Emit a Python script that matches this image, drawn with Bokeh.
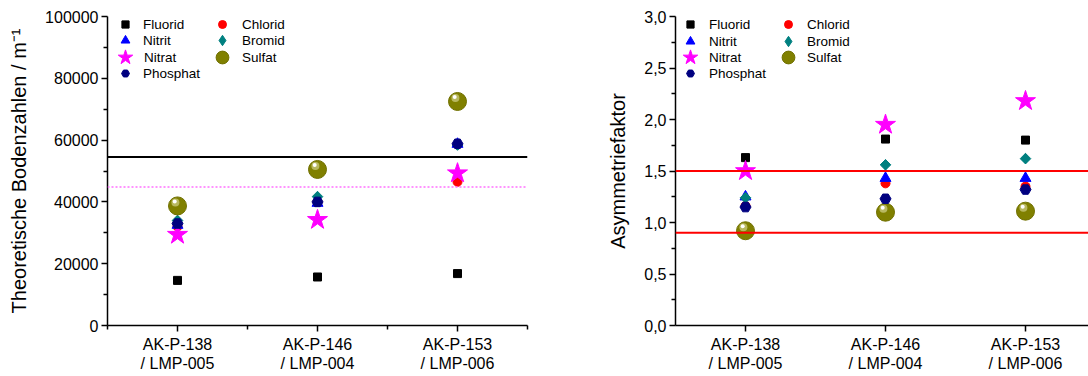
import math
from bokeh.plotting import figure
from bokeh.layouts import row
from bokeh.models import (Range1d, FixedTicker, Legend, LegendItem, Span, ColumnDataSource,
                          NumeralTickFormatter)
from bokeh.transform import dodge
from bokeh.embed import file_html
from bokeh.resources import INLINE

# ---------------- data ----------------
samples = ["AK-P-138\n/ LMP-005", "AK-P-146\n/ LMP-004", "AK-P-153\n/ LMP-006"]
xpos = [1, 2, 3]

# Theoretische Bodenzahlen / m^-1
plates_fluorid = [14600, 15700, 16800]
plates_chlorid = [32000, 40000, 46500]
plates_nitrit = [32500, 39600, 58700]
plates_bromid = [34000, 41700, 58400]
plates_nitrat = [29400, 34200, 49300]
plates_sulfat = [38700, 50500, 72500]
plates_phosphat = [33000, 40000, 58800]
plates_limit_solid = 54500
plates_limit_dotted = 44800

# Asymmetriefaktor
asym_fluorid = [1.63, 1.81, 1.80]
asym_chlorid = [1.16, 1.38, 1.35]
asym_nitrit = [1.25, 1.43, 1.43]
asym_bromid = [1.24, 1.56, 1.62]
asym_nitrat = [1.50, 1.95, 2.18]
asym_sulfat = [0.92, 1.10, 1.11]
asym_phosphat = [1.15, 1.23, 1.32]
asym_limits = [1.5, 0.9]

left_yticks = [0, 20000, 40000, 60000, 80000, 100000]
left_yminor = [10000, 30000, 50000, 70000, 90000]
right_yticks = [0, 0.5, 1.0, 1.5, 2.0, 2.5, 3.0]
right_yminor = [0.25, 0.75, 1.25, 1.75, 2.25, 2.75]
right_ylabels = ["0,0", "0,5", "1,0", "1,5", "2,0", "2,5", "3,0"]

legend_col1 = ["Fluorid", "Nitrit", "Nitrat", "Phosphat"]
legend_col2 = ["Chlorid", "Bromid", "Sulfat"]

FONT = "Liberation Sans"
H = 376
TOP = 16
FRAME_H = 309
LEFT = 107


def style(p, yticks, yminor, xminor, ylabel):
    p.outline_line_color = None
    p.xgrid.visible = False
    p.ygrid.visible = False
    p.background_fill_color = "white"
    p.border_fill_color = "white"
    for ax in (p.xaxis[0], p.yaxis[0]):
        ax.axis_line_color = "black"
        ax.axis_line_width = 1.5
        ax.major_tick_line_color = "black"
        ax.major_tick_line_width = 1.5
        ax.minor_tick_line_color = "black"
        ax.minor_tick_line_width = 1.5
        ax.major_tick_in = 0
        ax.major_tick_out = 6
        ax.minor_tick_in = 0
        ax.minor_tick_out = 4
        ax.major_label_text_font = FONT
        ax.major_label_text_font_size = "16px"
        ax.major_label_text_color = "black"
        ax.axis_label_text_font = FONT
        ax.axis_label_text_font_size = "20px"
        ax.axis_label_text_font_style = "normal"
        ax.axis_label_text_color = "black"
    p.xaxis[0].ticker = FixedTicker(ticks=xpos, minor_ticks=xminor)
    p.xaxis[0].major_label_overrides = {x: s for x, s in zip(xpos, samples)}
    p.xaxis[0].major_label_standoff = 4
    p.xaxis[0].major_label_text_line_height = 1.15
    p.yaxis[0].ticker = FixedTicker(ticks=yticks, minor_ticks=yminor)
    p.yaxis[0].major_label_standoff = 3
    p.yaxis[0].axis_label = ylabel
    p.yaxis[0].axis_label_standoff = 12


def add_series(p, src, ydod):
    r = {}
    r["Fluorid"] = p.scatter("x", "fluorid", source=src, marker="square", size=8,
                             fill_color="black", line_color="black")
    r["Chlorid"] = p.scatter("x", "chlorid", source=src, marker="circle", size=9,
                             fill_color="red", line_color="red")
    r["Nitrit"] = p.scatter("x", "nitrit", source=src, marker="triangle", size=11,
                            fill_color="blue", line_color="blue")
    # diamond (used for the legend symbol), covered by a rotated square in the plot
    r["Bromid"] = p.scatter("x", "bromid", source=src, marker="diamond", size=10,
                            fill_color="#008080", line_color="#008080")
    p.scatter("x", "bromid", source=src, marker="square", size=7.5, angle=math.pi / 4,
              fill_color="#008080", line_color="#008080")
    r["Nitrat"] = p.scatter("x", "nitrat", source=src, marker="star", size=21,
                            fill_color="#ff00ff", line_color="#ff00ff")
    s1 = p.scatter("x", "sulfat", source=src, marker="circle", size=18,
                   fill_color="#808000", line_color="#707000")
    p.scatter(dodge("x", -0.015), dodge("sulfat", ydod), source=src, marker="circle", size=8,
              fill_color="#b8b860", line_color=None)
    p.scatter(dodge("x", -0.02), dodge("sulfat", ydod * 1.3), source=src, marker="circle", size=4,
              fill_color="white", line_color=None)
    r["Sulfat"] = s1
    r["Phosphat"] = p.scatter("x", "phosphat", source=src, marker="hex", size=11,
                              fill_color="#000080", line_color="#000080")
    return r


# legend glyph box in px (Bokeh draws the legend marker at 0.4 * box)
legend_box_px = {"Fluorid": 18, "Chlorid": 20, "Nitrit": 22, "Bromid": 26,
                 "Nitrat": 38, "Sulfat": 32, "Phosphat": 20}


def add_legends(p, r, gx1, lx1, gx2, lx2, rows):
    for names, gx, lx in ((legend_col1, gx1, lx1), (legend_col2, gx2, lx2)):
        for i, name in enumerate(names):
            box = legend_box_px[name]
            cy = rows[i]
            lg = Legend(items=[LegendItem(label=name, renderers=[r[name]])],
                        location=(gx - box // 2, FRAME_H - (cy + box // 2)),
                        padding=0, margin=0, spacing=0,
                        glyph_width=box, glyph_height=box, label_height=box,
                        label_standoff=max(0, lx - gx - box // 2),
                        border_line_color=None, background_fill_alpha=0,
                        label_text_font=FONT, label_text_font_size="13.5px",
                        label_text_color="black")
            p.add_layout(lg)


# ---------------- left panel ----------------
src_l = ColumnDataSource(dict(x=xpos, fluorid=plates_fluorid, chlorid=plates_chlorid,
                              nitrit=plates_nitrit, bromid=plates_bromid, nitrat=plates_nitrat,
                              sulfat=plates_sulfat, phosphat=plates_phosphat))
W1 = 568
p1 = figure(width=W1, height=H, output_backend="svg", toolbar_location=None,
            x_range=Range1d(0.5, 3.5), y_range=Range1d(0, 100000),
            min_border_left=LEFT, min_border_right=W1 - LEFT - 420,
            min_border_top=TOP, min_border_bottom=H - TOP - FRAME_H)
style(p1, left_yticks, left_yminor, [0.5, 1.5, 2.5, 3.5], "Theoretische Bodenzahlen / m\u207b\u00b9")
p1.yaxis[0].formatter = NumeralTickFormatter(format="0")
p1.add_layout(Span(location=plates_limit_solid, dimension="width", line_color="black", line_width=2))
p1.add_layout(Span(location=plates_limit_dotted, dimension="width", line_color="#ff70ff",
                   line_width=1.5, line_dash="2 2"))
r1 = add_series(p1, src_l, 1100)
add_legends(p1, r1, 18, 36, 115, 135, [8, 24, 41, 57])

# ---------------- right panel ----------------
src_r = ColumnDataSource(dict(x=xpos, fluorid=asym_fluorid, chlorid=asym_chlorid,
                              nitrit=asym_nitrit, bromid=asym_bromid, nitrat=asym_nitrat,
                              sulfat=asym_sulfat, phosphat=asym_phosphat))
W2 = 1088 - W1
frame_w2 = W2 - LEFT
p2 = figure(width=W2, height=H, output_backend="svg", toolbar_location=None,
            x_range=Range1d(0.5, 0.5 + frame_w2 / 140.0), y_range=Range1d(0, 3.0),
            min_border_left=LEFT, min_border_right=0,
            min_border_top=TOP, min_border_bottom=H - TOP - FRAME_H)
style(p2, right_yticks, right_yminor, [], "Asymmetriefaktor")
p2.yaxis[0].major_label_overrides = {t: s for t, s in zip(right_yticks, right_ylabels)}
for lim in asym_limits:
    p2.add_layout(Span(location=lim, dimension="width", line_color="red", line_width=2))
r2 = add_series(p2, src_r, 0.033)
add_legends(p2, r2, 15, 34, 113, 132, [8, 25, 41, 57])

layout = row(p1, p2)
open("out.html", "w").write(file_html(layout, INLINE))
